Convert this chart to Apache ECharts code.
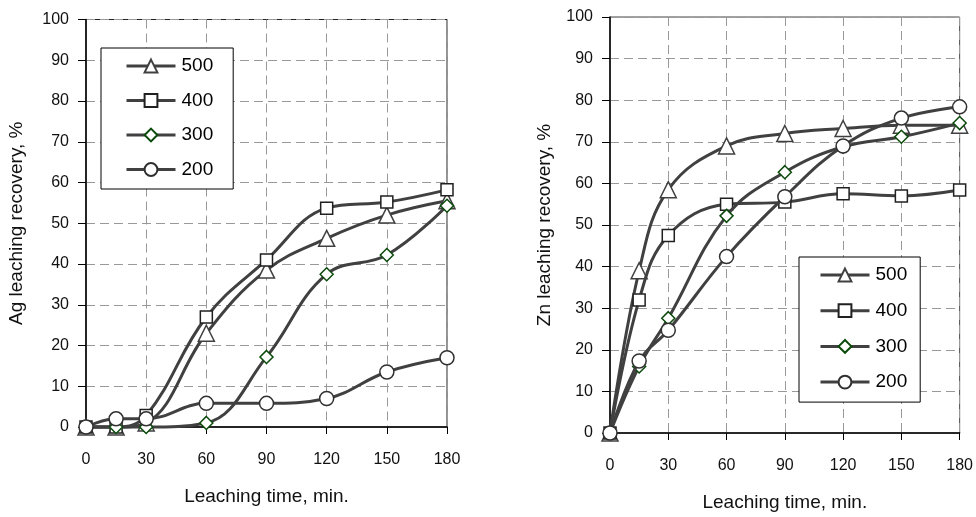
<!DOCTYPE html>
<html>
<head>
<meta charset="utf-8">
<script src="https://cdn.jsdelivr.net/npm/echarts@6/dist/echarts.min.js"></script>
<style>
  html, body { margin: 0; padding: 0; background: #fff; }
  #main { width: 976px; height: 517px; }
</style>
</head>
<body>
<div id="main"></div>
<script>
// 浸出时间, min
var times = [0, 15, 30, 60, 90, 120, 150, 180];
var seriesNames = ['500', '400', '300', '200'];

// Ag 浸出率 %
var ag500 = [0, 0, 1, 23, 38.5, 46.3, 52, 55.5];
var ag400 = [0, 0, 2.8, 27, 41, 53.7, 55.2, 58.2];
var ag300 = [0, 0, 0, 1, 17.2, 37.5, 42.2, 54.3];
var ag200 = [0, 2, 2, 5.8, 5.8, 7, 13.5, 17];

// Zn 浸出率 %
var zn500 = [0, 39, 58.5, 69, 72, 73.2, 74, 74];
var zn400 = [0, 32, 47.5, 55, 55.5, 57.5, 57, 58.4];
var zn300 = [0, 16, 27.6, 52.2, 62.7, 68.8, 71.2, 74.5];
var zn200 = [0, 17.3, 24.7, 42.4, 56.8, 69, 75.7, 78.4];

var myChart = echarts.init(document.getElementById('main'));

var lineColor = '#404040';
var textFont = "Arial, 'Liberation Sans', sans-serif";

// 标记样式
var marks = [
    { symbol: 'triangle', size: 16, border: '#404040' },
    { symbol: 'rect', size: 12, border: '#202020' },
    { symbol: 'diamond', size: 13, border: '#0b4a0b' },
    { symbol: 'circle', size: 14, border: '#303030' }
];

function pairs(vals) {
    return times.map(function (t, i) { return [t, vals[i]]; });
}

function makeSeries(idx, vals, gridIdx) {
    var m = marks[idx];
    return {
        name: seriesNames[idx],
        type: 'line',
        xAxisIndex: gridIdx,
        yAxisIndex: gridIdx,
        data: pairs(vals),
        smooth: 0.4,
        clip: false,
        symbol: m.symbol,
        symbolSize: m.size,
        showAllSymbol: true,
        lineStyle: { color: lineColor, width: 3 },
        itemStyle: { color: '#fff', borderColor: m.border, borderWidth: 1.5 },
        emphasis: { disabled: true },
        z: 2 + idx
    };
}

function makeX(gridIdx) {
    return {
        type: 'value',
        gridIndex: gridIdx,
        min: 0,
        max: 180,
        interval: 30,
        name: 'Leaching time, min.',
        nameLocation: 'middle',
        nameGap: 60,
        nameTextStyle: { fontFamily: textFont, fontSize: 19, color: '#111' },
        axisLine: { show: true, onZero: false, lineStyle: { color: '#000', width: 1.5 } },
        axisTick: { show: true, length: 7, lineStyle: { color: '#000' } },
        axisLabel: { margin: 25, fontFamily: textFont, fontSize: 16, color: '#111' },
        splitLine: { show: true, lineStyle: { color: '#999', type: [9, 5], width: 1 } }
    };
}

function makeY(gridIdx, name, gap) {
    return {
        type: 'value',
        gridIndex: gridIdx,
        min: 0,
        max: 100,
        interval: 10,
        name: name,
        nameLocation: 'middle',
        nameGap: gap,
        nameTextStyle: { fontFamily: textFont, fontSize: 19, color: '#111' },
        axisLine: { show: true, lineStyle: { color: '#000', width: 1.5 } },
        axisTick: { show: true, length: 8, lineStyle: { color: '#000' } },
        axisLabel: { margin: 17, fontFamily: textFont, fontSize: 16, color: '#111' },
        splitLine: { show: true, lineStyle: { color: '#999', type: [9, 5], width: 1 } }
    };
}

function makeLegend(left, top, pad, gap) {
    return {
        orient: 'vertical',
        left: left,
        top: top,
        padding: pad,
        itemGap: gap,
        itemWidth: 49,
        itemHeight: 16,
        backgroundColor: '#fff',
        borderColor: '#000',
        borderWidth: 1,
        selectedMode: false,
        data: seriesNames,
        lineStyle: { width: 3 },
        textStyle: { fontFamily: textFont, fontSize: 19, color: '#000', padding: [0, 0, 0, 1] }
    };
}

var option = {
    animation: false,
    backgroundColor: '#fff',
    grid: [
        { left: 86, top: 19.5, width: 361, height: 407.5, show: true, borderColor: '#222', borderWidth: 1, backgroundColor: 'transparent' },
        { left: 610, top: 17, width: 350, height: 416, show: true, borderColor: '#444', borderWidth: 1, backgroundColor: 'transparent' }
    ],
    xAxis: [makeX(0), makeX(1)],
    yAxis: [makeY(0, 'Ag leaching recovery, %', 60), makeY(1, 'Zn leaching recovery, %', 56)],
    legend: [
        makeLegend(101, 48, [8.5, 20, 10, 24], 15.5),
        makeLegend(799, 257, [8.5, 13, 10.5, 20], 16.7)
    ],
    series: [
        makeSeries(0, ag500, 0),
        makeSeries(1, ag400, 0),
        makeSeries(2, ag300, 0),
        makeSeries(3, ag200, 0),
        makeSeries(0, zn500, 1),
        makeSeries(1, zn400, 1),
        makeSeries(2, zn300, 1),
        makeSeries(3, zn200, 1)
    ]
};

myChart.setOption(option, true);
</script>
</body>
</html>
